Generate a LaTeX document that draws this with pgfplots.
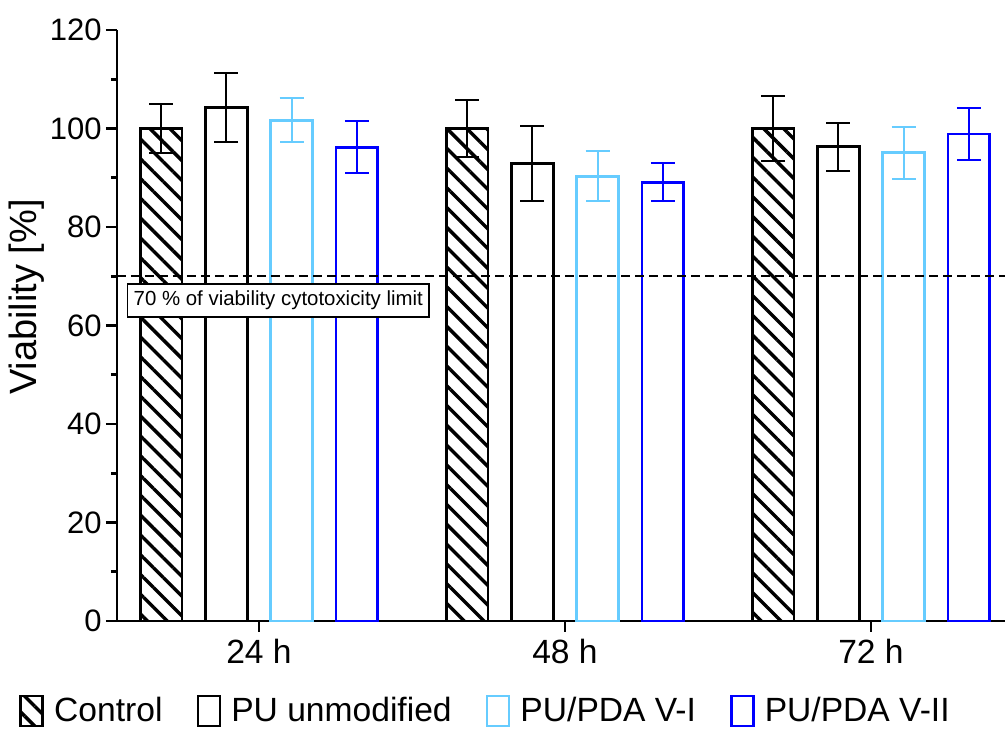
\documentclass[border=0pt]{standalone}
\usepackage{fontspec}
\setmainfont{Liberation Sans}
\usepackage{pgfplots}
\pgfplotsset{compat=1.18}
\usetikzlibrary{patterns.meta}
\definecolor{lightb}{RGB}{102,204,255}
\definecolor{darkb}{RGB}{0,0,255}
\begin{document}
\begin{tikzpicture}
\begin{axis}[
 name=ax,
 scale only axis, width=444pt, height=295.5pt,
 xmin=-0.464, xmax=2.438, ymin=0, ymax=120,
 axis x line*=bottom, axis y line*=left,
 axis line style={line width=1.4pt},
 xtick={0,1,2}, xticklabels={24 h,48 h,72 h},
 ytick={0,20,...,120}, minor y tick num=1,
 tick align=outside,
 major tick length=5.5pt, minor tick length=3pt,
 every tick/.style={black, line width=1.4pt},
 xticklabel style={font=\fontsize{16.8}{19}\selectfont},
 yticklabel style={font=\fontsize{15.5}{19}\selectfont, inner xsep=2pt},
 /pgf/number format/assume math mode=true,
 ylabel={Viability [\%]},
 ylabel style={font=\fontsize{19}{22}\selectfont, at={(axis description cs:-0.1015,0.548)}, anchor=center},
 ybar, bar width=0.137,
 legend columns=4,
 legend style={draw=none, fill=none, at={(axis description cs:0,0)}, anchor=west, xshift=-52pt, yshift=-45pt, font=\fontsize{16.8}{19}\selectfont, /tikz/every even column/.append style={column sep=15pt}},
 legend image code/.code={\draw[#1, line width=1.4pt] (0pt,-7.5pt) rectangle (11pt,7.5pt); \path (14pt,0pt);},
 clip=false,
]
\addplot[draw=black, line width=1.4pt, fill=white, postaction={pattern={Lines[angle=-45,distance=7pt,line width=1.7pt]}}, bar shift=-0.32,
  error bars/.cd, y dir=both, y explicit, error bar style={line width=1pt,black}, error mark options={rotate=90, mark size=6pt, line width=1pt, black}]
  coordinates {(0,100) +- (0,5) (1,100) +- (0,5.7) (2,100) +- (0,6.6)};
\addplot[draw=black, line width=1.4pt, fill=white, bar shift=-0.107,
  error bars/.cd, y dir=both, y explicit, error bar style={line width=1pt,black}, error mark options={rotate=90, mark size=6pt, line width=1pt, black}]
  coordinates {(0,104.2) +- (0,7) (1,92.9) +- (0,7.6) (2,96.3) +- (0,4.9)};
\addplot[draw=lightb, line width=1.4pt, fill=white, bar shift=0.107,
  error bars/.cd, y dir=both, y explicit, error bar style={line width=1pt,lightb}, error mark options={rotate=90, mark size=6pt, line width=1pt, lightb}]
  coordinates {(0,101.7) +- (0,4.5) (1,90.3) +- (0,5.1) (2,95.1) +- (0,5.3)};
\addplot[draw=darkb, line width=1.4pt, fill=white, bar shift=0.32,
  error bars/.cd, y dir=both, y explicit, error bar style={line width=1pt,darkb}, error mark options={rotate=90, mark size=6pt, line width=1pt, darkb}]
  coordinates {(0,96.2) +- (0,5.3) (1,89.1) +- (0,3.8) (2,98.9) +- (0,5.2)};
\legend{Control, PU unmodified, PU/PDA V-I, PU/PDA V-II}
\draw[black, line width=0.75pt, dash pattern=on 4.5pt off 2.5pt] (axis cs:-0.464,70) -- (axis cs:2.438,70);
\node[draw=black, fill=white, line width=0.75pt, inner xsep=3pt, inner ysep=3.5pt, anchor=north west, font=\fontsize{10.2}{12}\selectfont] at ([xshift=5pt]axis cs:-0.464,68.6) {70 \% of viability cytotoxicity limit};
\end{axis}
\pgfresetboundingbox
\path[use as bounding box] ([shift={(-58.5pt,-55pt)}]ax.south west) rectangle ([shift={(0.5pt,15pt)}]ax.north east);
\end{tikzpicture}
\end{document}
